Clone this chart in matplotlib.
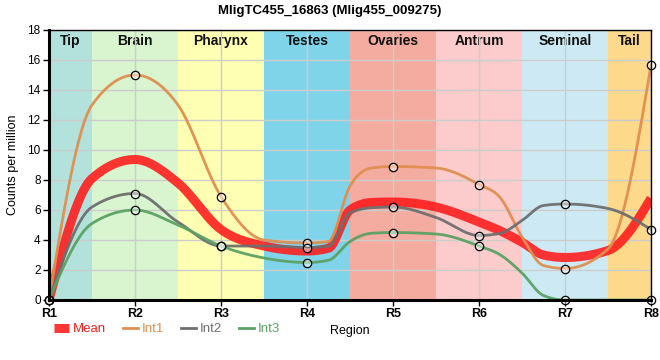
import numpy as np
import matplotlib
matplotlib.use("Agg")
import matplotlib.pyplot as plt
from matplotlib.lines import Line2D

plt.rcParams['font.family'] = ['Liberation Sans', 'DejaVu Sans']

regions = ["R1", "R2", "R3", "R4", "R5", "R6", "R7", "R8"]
int1 = [0, 15.0, 6.9, 3.8, 8.9, 7.7, 2.1, 15.65]
int2 = [0, 7.1, 3.6, 3.5, 6.2, 4.3, 6.4, 4.7]
int3 = [0, 6.0, 3.6, 2.5, 4.5, 3.6, 0.0, 0.0]
mean = [(a + b + c) / 3 for a, b, c in zip(int1, int2, int3)]

# curve values read at the band boundaries (between consecutive regions)
int1_edges = [13.0, 13.0, 4.0, 7.6, 8.8, 4.2, 3.4]
int2_edges = [6.2, 5.2, 3.6, 5.8, 5.5, 5.3, 6.1]
int3_edges = [5.1, 5.0, 2.8, 3.9, 4.4, 1.8, 0.0]
mean_edges = [8.1, 7.8, 3.6, 6.0, 6.2, 3.85, 3.3]

# extra curve values read at quarter positions of the steep transitions
quarter_pos = [3.25, 3.75, 5.25, 5.75]
int1_quarter = [3.9, 8.8, 6.8, 2.3]
int2_quarter = [3.6, 6.15, 4.45, 6.3]
int3_quarter = [2.65, 4.45, 3.0, 0.3]
mean_quarter = [3.45, 6.5, 4.6, 3.0]

band_names = ["Tip", "Brain", "Pharynx", "Testes", "Ovaries", "Antrum", "Seminal", "Tail"]
band_colors = ["#b3e2dd", "#d8f5d0", "#ffffb3", "#80d4ea", "#f4aca0", "#fccbcb", "#cdeaf4", "#fdd98b"]

series_names = ["Int1", "Int2", "Int3"]
series_colors = ["#df8f4f", "#6e6e6e", "#5aa264"]


def monotone(x, y, n=900):
    x = np.asarray(x, float); y = np.asarray(y, float)
    h = np.diff(x); s = np.diff(y) / h
    m = np.zeros_like(y)
    for i in range(1, len(y) - 1):
        p = (s[i - 1] * h[i] + s[i] * h[i - 1]) / (h[i - 1] + h[i])
        m[i] = (np.sign(s[i - 1]) + np.sign(s[i])) * min(abs(s[i - 1]), abs(s[i]), 0.5 * abs(p))
    m[0] = (3 * s[0] - m[1]) / 2
    m[-1] = (3 * s[-1] - m[-2]) / 2
    xs = np.linspace(x[0], x[-1], n)
    ys = np.empty_like(xs)
    for k, xv in enumerate(xs):
        i = min(np.searchsorted(x, xv, side='right') - 1, len(x) - 2)
        t = (xv - x[i]) / h[i]
        h00 = 2 * t**3 - 3 * t**2 + 1
        h10 = t**3 - 2 * t**2 + t
        h01 = -2 * t**3 + 3 * t**2
        h11 = t**3 - t**2
        ys[k] = h00 * y[i] + h10 * h[i] * m[i] + h01 * y[i + 1] + h11 * h[i] * m[i + 1]
    return xs, ys


def knots(vals, edges, quarter):
    pts = {float(i): v for i, v in enumerate(vals)}
    pts.update({i + 0.5: v for i, v in enumerate(edges)})
    pts.update({p: v for p, v in zip(quarter_pos, quarter)})
    xk = sorted(pts)
    return xk, [pts[k] for k in xk]


fig = plt.figure(figsize=(6.6, 3.6), dpi=100)
ax = fig.add_axes([49 / 660, 60 / 360, 602 / 660, 270 / 360])
x = np.arange(len(regions))

for i, (name, col) in enumerate(zip(band_names, band_colors)):
    lo = max(i - 0.5, 0); hi = min(i + 0.5, len(regions) - 1)
    ax.axvspan(lo, hi, color=col, zorder=0, lw=0)
    ax.text((lo + hi) / 2, 17.25, name, ha='center', va='center', fontsize=10,
            fontweight='bold', color='#111111', zorder=1)

ax.set_xlim(0, len(regions) - 1)
ax.set_ylim(0, 18)
ax.set_yticks(np.arange(0, 19, 2))
ax.set_xticks(x)
ax.set_xticklabels(regions, fontweight='bold', fontsize=9)
ax.tick_params(axis='y', labelsize=8.5, length=4, width=1, pad=2, colors='black')
ax.tick_params(axis='x', length=4, width=1, pad=2)
ax.grid(True, color='#cccccc', lw=1)
for g in ax.get_xgridlines() + ax.get_ygridlines():
    g.set_zorder(0.5)

xs, ys = monotone(*knots(mean, mean_edges, mean_quarter))
ax.plot(xs, ys, color='#ff1a1a', lw=6.5, alpha=0.88, zorder=3, solid_capstyle='butt')
for name, col, vals, edges, quarter in zip(series_names, series_colors, [int1, int2, int3],
                                           [int1_edges, int2_edges, int3_edges],
                                           [int1_quarter, int2_quarter, int3_quarter]):
    xs, ys = monotone(*knots(vals, edges, quarter))
    ax.plot(xs, ys, color=col, lw=2.0, alpha=0.95, zorder=4)
    ax.plot(x, vals, ls='none', marker='o', ms=6, mfc=(1, 1, 1, 0.45), mec='black',
            mew=0.9, zorder=5, clip_on=False)

for sp in ['left', 'bottom']:
    ax.spines[sp].set_linewidth(2.2)
for sp in ['top', 'right']:
    ax.spines[sp].set_linewidth(1.0)
for sp in ax.spines.values():
    sp.set_zorder(6)

ax.set_ylabel("Counts per million", fontsize=9, labelpad=6)
fig.text(0.5, 0.970, "MligTC455_16863 (Mlig455_009275)", ha='center', va='center',
         fontsize=9.5, fontweight='bold')
fig.text(350 / 660, 1 - 331 / 360, "Region", ha='center', va='center', fontsize=9)

handles = [Line2D([], [], color='#ff1a1a', lw=6.5, alpha=0.88, solid_capstyle='butt')]
handles += [Line2D([], [], color=c, lw=2.0) for c in series_colors]
labels = ["Mean"] + series_names
leg = fig.legend(handles, labels, loc='center left', bbox_to_anchor=(54 / 660, 1 - 329 / 360),
                 ncol=4, frameon=False, handlelength=1.15, handletextpad=0.3,
                 columnspacing=1.25, fontsize=9.5, labelcolor='linecolor',
                 borderpad=0, borderaxespad=0)

fig.savefig("out.png", dpi=100)
